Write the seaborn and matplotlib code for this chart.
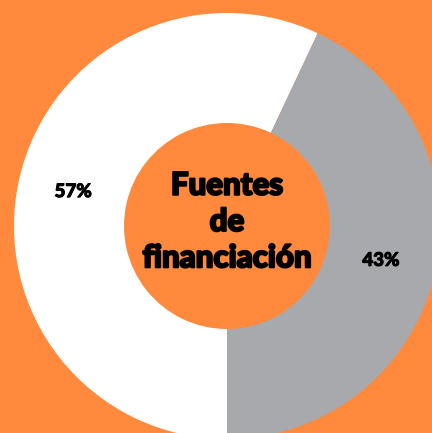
import matplotlib
matplotlib.use("Agg")
import matplotlib.pyplot as plt
import matplotlib.patheffects as pe
import seaborn as sns

sns.set_theme(style="white")
plt.rcParams['font.family'] = ['Lato', 'DejaVu Sans']

categories = ["Otros", "Propios"]
values = [57, 43]
colors = ["#FFFFFF", "#A8A9AD"]
title = "Fuentes\nde\nfinanciación"

bg = "#FF8A3E"
fig = plt.figure(figsize=(4.32, 4.33), dpi=100, facecolor=bg)
ax = fig.add_axes([0, 0, 1, 1])
ax.set_facecolor(bg)

outer_r = 213
inner_r = 103
thick = [pe.withStroke(linewidth=0.7, foreground='black')]
wedges, texts, autotexts = ax.pie(
    values, colors=colors, radius=outer_r, startangle=-90, counterclock=False,
    autopct=lambda p: f"{p:.0f}%", pctdistance=0.74,
    wedgeprops=dict(width=outer_r - inner_r, linewidth=0),
    textprops=dict(fontsize=13.5, fontweight='black', color='black'))
for t in autotexts:
    t.set_path_effects(thick)

ax.text(0, 4, title, ha='center', va='center', fontsize=22.5, fontweight='black',
        color='black', linespacing=1.36,
        path_effects=[pe.withStroke(linewidth=1.5, foreground='black')])

ax.set_xlim(-227, 205)
ax.set_ylim(-207, 226)
ax.set_aspect('equal')
ax.axis('off')

fig.savefig("out.png", dpi=100, facecolor=bg)
